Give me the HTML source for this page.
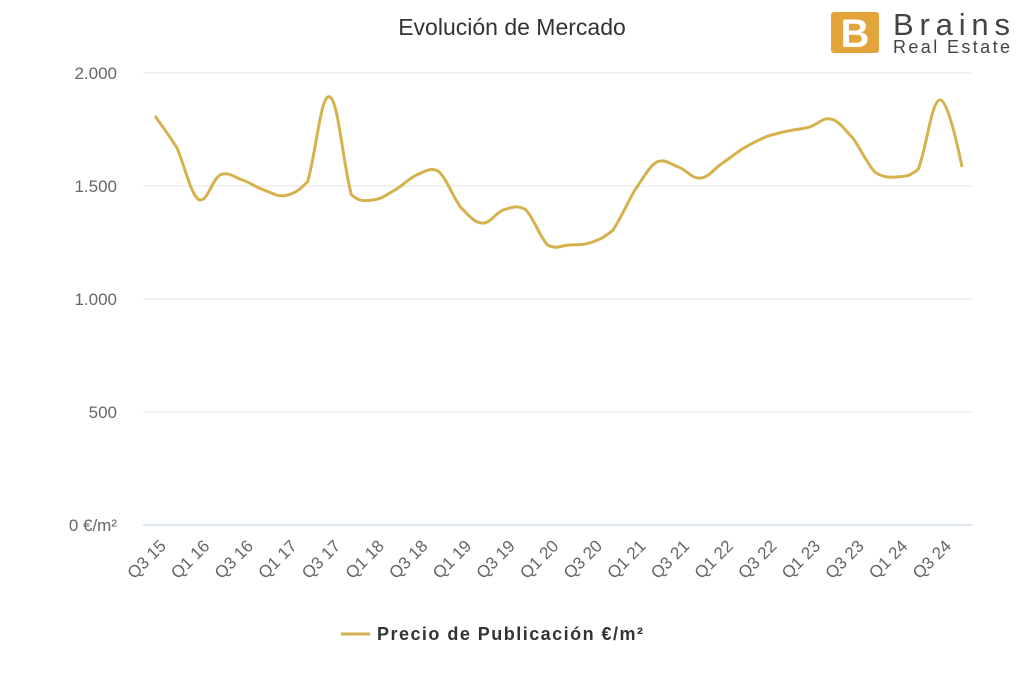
<!DOCTYPE html>
<html><head><meta charset="utf-8"><style>
body{margin:0;background:#fff;}
svg{display:block;font-family:"Liberation Sans",sans-serif;}
</style></head><body>
<svg width="1024" height="683" xmlns="http://www.w3.org/2000/svg">
<text x="512" y="35" text-anchor="middle" font-size="23" fill="#333">Evolución de Mercado</text>
<g>
<rect x="831" y="12" width="48" height="41" rx="3" fill="#e3a43a"/>
<text x="855" y="47" text-anchor="middle" font-size="40" font-weight="bold" fill="#fff">B</text>
<text x="893" y="35" font-size="31" fill="#444" textLength="117">Brains</text>
<text x="893" y="53" font-size="18" fill="#444" textLength="117">Real Estate</text>
</g>
<g id="grid"></g><g id="xlabels"></g>
<path id="line" fill="none" stroke="#d6b24f" stroke-width="3"/>
<g>
<line x1="341" y1="634" x2="370" y2="634" stroke="#d6b24f" stroke-width="3"/>
<text x="377" y="640" font-size="18" font-weight="bold" fill="#333" textLength="266">Precio de Publicación €/m²</text>
</g>
</svg>
<script>
const categories=["Q3 15","Q4 15","Q1 16","Q2 16","Q3 16","Q4 16","Q1 17","Q2 17","Q3 17","Q4 17","Q1 18","Q2 18","Q3 18","Q4 18","Q1 19","Q2 19","Q3 19","Q4 19","Q1 20","Q2 20","Q3 20","Q4 20","Q1 21","Q2 21","Q3 21","Q4 21","Q1 22","Q2 22","Q3 22","Q4 22","Q1 23","Q2 23","Q3 23","Q4 23","Q1 24","Q2 24","Q3 24","Q4 24"];
const prices=[1810,1670,1440,1550,1527,1482,1458,1520,1895,1462,1438,1482,1549,1565,1407,1336,1395,1395,1239,1239,1250,1305,1482,1606,1584,1535,1600,1668,1717,1743,1761,1796,1712,1562,1540,1575,1881,1584];
const yTicks=[0,500,1000,1500,2000];
const yTickLabels=["0 €/m²","500","1.000","1.500","2.000"];
const NS="http://www.w3.org/2000/svg";
const x0=155,x1=962,yBase=525,yTop=73;
function xs(i){return x0+i*(x1-x0)/(categories.length-1);}
function ys(v){return yBase-(v/2000)*(yBase-yTop);}
const grid=document.getElementById('grid');
yTicks.forEach((t,i)=>{
 const l=document.createElementNS(NS,'line');
 l.setAttribute('x1',143);l.setAttribute('x2',972);l.setAttribute('y1',ys(t));l.setAttribute('y2',ys(t));
 l.setAttribute('stroke',t===0?'#b8cde0':'#e6e6e6');l.setAttribute('stroke-width',1);
 
 
 grid.appendChild(l);
 const tx=document.createElementNS(NS,'text');
 tx.setAttribute('x',117);tx.setAttribute('y',ys(t)+6);tx.setAttribute('text-anchor','end');
 tx.setAttribute('font-size',17);tx.setAttribute('fill','#666');tx.textContent=yTickLabels[i];
 
 
 grid.appendChild(tx);
});
const xl=document.getElementById('xlabels');
categories.forEach((c,i)=>{
 if(i%2)return;
 const tx=document.createElementNS(NS,'text');
 const x=xs(i)+12,y=547;
 tx.setAttribute('x',x);tx.setAttribute('y',y);tx.setAttribute('text-anchor','end');
 tx.setAttribute('transform','rotate(-45 '+x+' '+y+')');
 tx.setAttribute('font-size',17);tx.setAttribute('fill','#666');tx.textContent=c;
 
 
 xl.appendChild(tx);
});
const pts=prices.map((v,i)=>[xs(i),ys(v)]);
let d='M'+pts[0][0]+' '+pts[0][1];
const s=1.5,den=s+1;
function ctrl(i){
 const p=pts[i],a=pts[i-1],b=pts[i+1];
 if(!a||!b)return [p,p];
 let lx=(s*p[0]+a[0])/den,ly=(s*p[1]+a[1])/den,rx=(s*p[0]+b[0])/den,ry=(s*p[1]+b[1])/den;
 const dl=Math.hypot(lx-p[0],ly-p[1]),dr=Math.hypot(rx-p[0],ry-p[1]);
 const cy=ly+(ry-ly)*dl/(dl+dr||1);
 ly+=p[1]-cy;ry+=p[1]-cy;
 return [[lx,ly],[rx,ry]];
}
for(let i=1;i<pts.length;i++){
 const c1=ctrl(i-1)[1],c2=ctrl(i)[0];
 d+=' C'+c1[0]+' '+c1[1]+' '+c2[0]+' '+c2[1]+' '+pts[i][0]+' '+pts[i][1];
}
document.getElementById('line').setAttribute('d',d);
</script>
</body></html>
